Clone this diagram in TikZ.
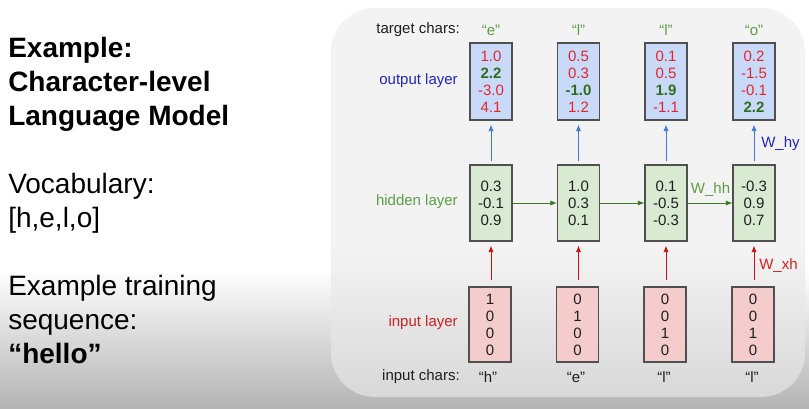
\documentclass[tikz,border=0pt]{standalone}
\usepackage{fontspec}
\setmainfont{Liberation Sans}
\usetikzlibrary{arrows.meta}
\definecolor{bgbot}{HTML}{B4B4B4}
\definecolor{pnltop}{HTML}{F3F3F3}
\definecolor{pnlbot}{HTML}{D8D8D8}
\definecolor{outfill}{HTML}{C9DAF8}
\definecolor{hidfill}{HTML}{D9EAD3}
\definecolor{infill}{HTML}{F4CCCC}
\definecolor{boxline}{HTML}{505050}
\definecolor{numred}{HTML}{E3262E}
\definecolor{numgreen}{HTML}{2F6E1E}
\definecolor{lblgreen}{HTML}{5C9E44}
\definecolor{lblblue}{HTML}{2323C8}
\definecolor{lblred}{HTML}{D42020}
\definecolor{arrblue}{HTML}{3C78D8}
\definecolor{arrred}{HTML}{CC1010}
\definecolor{arrgreen}{HTML}{3A7A22}
\definecolor{txt}{HTML}{1E1E1E}
\pgfdeclareverticalshading{bgshade}{100bp}{color(0bp)=(bgbot); color(25bp)=(bgbot); color(42bp)=(white); color(100bp)=(white)}
\pgfdeclareverticalshading{panelshade}{100bp}{color(0bp)=(pnlbot); color(25bp)=(pnlbot); color(44bp)=(pnltop); color(100bp)=(pnltop)}
\tikzset{
  big/.style={font=\fontsize{21}{25.5}\selectfont, text=black, anchor=base west, inner sep=0pt},
  sm/.style={font=\fontsize{11.25}{12.75}\selectfont, inner sep=0pt},
  vbox/.style={draw=boxline, line width=0.8pt, minimum width=31.5pt, align=center,
    font=\fontsize{11.25}{12.75}\selectfont, inner sep=0pt},
  obox/.style={vbox, fill=outfill, minimum height=57.75pt},
  hbox/.style={vbox, fill=hidfill, minimum height=57pt, text=txt},
  ibox/.style={vbox, fill=infill, minimum height=56.25pt, text=txt},
  r/.style={text=numred},
  arrtip/.style={-{Latex[length=5pt,width=4pt]}, line width=0.7pt},
  uparrb/.style={arrtip, draw=arrblue, shorten <=2.5pt, shorten >=3pt},
  uparrr/.style={arrtip, draw=arrred, shorten <=4.5pt, shorten >=3pt},
  harr/.style={arrtip, draw=arrgreen}
}
\newcommand{\gb}[1]{\textcolor{numgreen}{\textbf{#1}}}
\newcommand{\rd}[1]{\textcolor{numred}{#1}}
\begin{document}
\begin{tikzpicture}[x=0.75pt,y=-0.75pt]
\useasboundingbox (0,0) rectangle (809,408);
\shade[shading=bgshade] (0,0) rectangle (809,408);
\shade[shading=panelshade, rounded corners=33pt] (331,8) rectangle (805,397);

% left text
\node[big] (t1) at (8,57) {\textbf{Example:}};
\node[big] (t2) at (8,91) {\textbf{Character-level}};
\node[big] (t3) at (8,125) {\textbf{Language Model}};
\node[big] (t4) at (8,193) {Vocabulary:};
\node[big] (t5) at (8,227) {[h,e,l,o]};
\node[big] (t6) at (8,295) {Example training};
\node[big] (t7) at (8,329) {sequence:};
\node[big] (t8) at (8,363) {\textbf{“hello”}};

% output boxes
\node[obox] (o1) at (491,81.5) {\rd{1.0}\\\gb{2.2}\\\rd{-3.0}\\\rd{4.1}};
\node[obox] (o2) at (578.5,81.5) {\rd{0.5}\\\rd{0.3}\\\gb{-1.0}\\\rd{1.2}};
\node[obox] (o3) at (666,81.5) {\rd{0.1}\\\rd{0.5}\\\gb{1.9}\\\rd{-1.1}};
\node[obox] (o4) at (754,81.5) {\rd{0.2}\\\rd{-1.5}\\\rd{-0.1}\\\gb{2.2}};

% hidden boxes
\node[hbox] (h1) at (491,203) {0.3\\-0.1\\0.9};
\node[hbox] (h2) at (578.5,203) {1.0\\0.3\\0.1};
\node[hbox] (h3) at (666,203) {0.1\\-0.5\\-0.3};
\node[hbox] (h4) at (754,203) {-0.3\\0.9\\0.7};

% input boxes
\node[ibox] (i1) at (490,324.5) {1\\0\\0\\0};
\node[ibox] (i2) at (577.5,324.5) {0\\1\\0\\0};
\node[ibox] (i3) at (665,324.5) {0\\0\\1\\0};
\node[ibox] (i4) at (753,324.5) {0\\0\\1\\0};

% row labels
\node[sm, anchor=east, text=txt] (lt) at (460,30) {target chars:};
\node[sm, anchor=east, text=lblblue] (lo) at (458,81) {output layer};
\node[sm, anchor=east, text=lblgreen] (lh) at (458,202) {hidden layer};
\node[sm, anchor=east, text=lblred] (li) at (458,323) {input layer};
\node[sm, anchor=east, text=txt] (lic) at (460,377) {input chars:};

% target chars
\node[sm, text=lblgreen] (c1) at (491,30) {“e”};
\node[sm, text=lblgreen] (c2) at (578.5,30) {“l”};
\node[sm, text=lblgreen] (c3) at (666,30) {“l”};
\node[sm, text=lblgreen] (c4) at (754,30) {“o”};

% input chars
\node[sm, text=txt] (d1) at (488,377) {“h”};
\node[sm, text=txt] (d2) at (576,377) {“e”};
\node[sm, text=txt] (d3) at (664,377) {“l”};
\node[sm, text=txt] (d4) at (752,377) {“l”};

% arrows
\foreach \k in {1,2,3,4} {
  \draw[uparrb] (h\k) -- (o\k);
  \draw[uparrr] (i\k.north -| h\k) -- (h\k);
}
\draw[harr] (h1) -- (h2);
\draw[harr] (h2) -- (h3);
\draw[harr] (h3) -- (h4);

% weight labels
\node[sm, anchor=west, text=lblblue] (why) at (761,144) {W\_hy};
\node[sm, text=lblgreen] (whh) at (710.5,190) {W\_hh};
\node[sm, anchor=west, text=lblred] (wxh) at (759,266) {W\_xh};
\end{tikzpicture}
\end{document}
